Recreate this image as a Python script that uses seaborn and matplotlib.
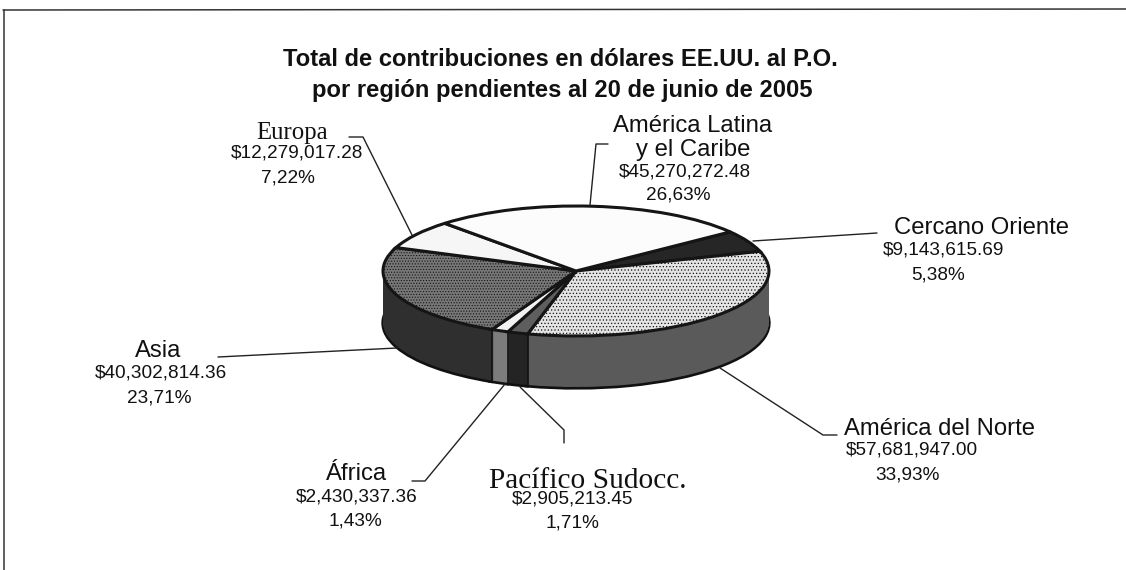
import matplotlib
matplotlib.use("Agg")
import matplotlib.pyplot as plt
import numpy as np
import seaborn as sns

sns.set_theme(style="white")
plt.rcParams['font.family'] = ['Liberation Sans', 'DejaVu Sans']
plt.rcParams['hatch.linewidth'] = 0.5

regions = ["Cercano Oriente", "América del Norte", "Pacífico Sudocc.", "África",
           "Asia", "Europa", "América Latina\ny el Caribe"]
amounts = ["$9,143,615.69", "$57,681,947.00", "$2,905,213.45", "$2,430,337.36",
           "$40,302,814.36", "$12,279,017.28", "$45,270,272.48"]
shares = [5.38, 33.93, 1.71, 1.43, 23.71, 7.22, 26.63]
share_labels = ["5,38%", "33,93%", "1,71%", "1,43%", "23,71%", "7,22%", "26,63%"]
top_colors = ["#262626", "#e4e4e4", "#5e5e5e", "#f2f2f2", "#777777", "#f6f6f6", "#fcfcfc"]
side_colors = ["#1c1c1c", "#5a5a5a", "#242424", "#7c7c7c", "#2f2f2f", "#3a3a3a", "#3a3a3a"]

W, H = 1126, 570
CX, CY, RX, RY, DEPTH = 576, 271, 193, 65, 52

fig = plt.figure(figsize=(W / 100, H / 100), dpi=100, facecolor="white")

# pie axes: unit circle squashed into the ellipse of the top face
ax = fig.add_axes([0, 0, 1, 1])
for d in range(DEPTH, 0, -1):
    ax.pie(shares, radius=1, center=(0, -d / RY), startangle=37, counterclock=False,
           colors=side_colors,
           wedgeprops={"linewidth": 2.4 if d == DEPTH else 0, "edgecolor": "#111111"})
wedges, _ = ax.pie(shares, radius=1, startangle=37, counterclock=False, colors=top_colors,
                   wedgeprops={"linewidth": 2.2, "edgecolor": "#151515"})
# stipple on the two big shaded faces, the scan looks dithered there
wedges[1].set_hatch(".....")
wedges[4].set_hatch("......")
# dividers on the front wall
for w in wedges:
    a = np.deg2rad(w.theta1)
    if np.sin(a) < 0:
        ax.plot([np.cos(a)] * 2, [np.sin(a), np.sin(a) - DEPTH / RY], color="#111111", lw=1.2)
ax.set_aspect("auto")
ax.set_xlim(-CX / RX, (W - CX) / RX)
ax.set_ylim(-(H - CY) / RY, CY / RY)

# overlay in pixel coordinates for title, labels and leader lines
ov = fig.add_axes([0, 0, 1, 1])
ov.set_xlim(0, W)
ov.set_ylim(H, 0)
ov.axis("off")
ov.patch.set_alpha(0)

ov.plot([3, 1126], [10, 9], color="#333333", lw=1.1)
ov.plot([4, 4], [10, 570], color="#333333", lw=1.1)

ov.text(560, 60, "Total de contribuciones en dólares EE.UU. al P.O.", ha="center", va="center",
        fontsize=17.1, fontweight="bold", color="#111111")
ov.text(562, 90, "por región pendientes al 20 de junio de 2005", ha="center", va="center",
        fontsize=17.1, fontweight="bold", color="#111111")

leaders = [
    ([349, 363, 412], [137, 137, 235]),
    ([608, 596, 590], [144, 144, 205]),
    ([753, 877], [241, 233]),
    ([720, 823, 837], [368, 435, 435]),
    ([218, 397], [357, 348]),
    ([412, 425, 505], [481, 481, 384]),
    ([520, 564, 564], [387, 430, 443]),
]
for xs, ys in leaders:
    ov.plot(xs, ys, color="#222222", lw=1.0)

name_pos = [(982, 228), (940, 429), (588, 481), (357, 474), (158, 351), (292, 133), (693, 138)]
amount_pos = [(944, 250), (912, 450), (573, 499), (357, 497), (161, 373), (297, 153), (685, 172)]
share_pos = [(938, 275), (908, 475), (572, 523), (355, 521), (159, 398), (288, 178), (678, 195)]

for i, name in enumerate(regions):
    if name in ("Europa", "Pacífico Sudocc."):
        fs = 17.8 if name == "Europa" else 21.2
        ov.text(*name_pos[i], name, ha="center", va="center", fontsize=fs,
                family="Liberation Serif", color="#111111")
    else:
        ov.text(*name_pos[i], name, ha="center", va="center", fontsize=17.2,
                color="#111111", linespacing=1.1)
    ov.text(*amount_pos[i], amounts[i], ha="center", va="center", fontsize=13.7, color="#111111")
    ov.text(*share_pos[i], share_labels[i], ha="center", va="center", fontsize=13.7, color="#111111")

fig.savefig("out.png", dpi=100)
